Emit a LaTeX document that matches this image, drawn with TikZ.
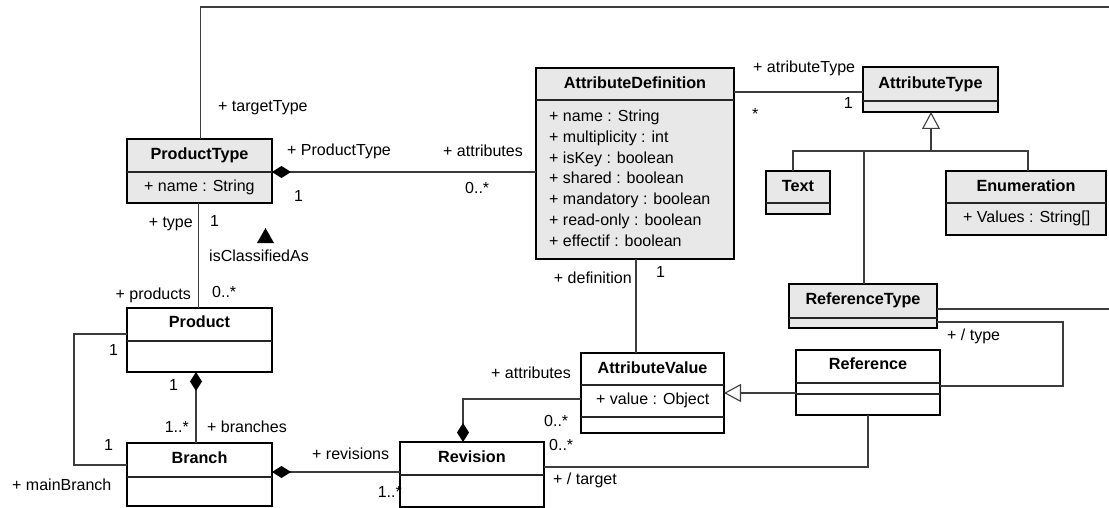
\documentclass[tikz,border=0pt]{standalone}
\usepackage{fontspec}
\setmainfont{Liberation Sans}
\usetikzlibrary{arrows.meta}
\definecolor{boxgray}{RGB}{232,232,232}
\definecolor{linegray}{RGB}{60,60,60}
\newcommand{\txtsize}{\fontsize{16}{19}\selectfont}
\newcommand{\ttlsize}{\fontsize{16.2}{19}\selectfont}
% class box from its corners: name, x1, y1, x2, y2, fill
\newcommand{\classbox}[6]{%
  \node[cls, fill=#6, minimum width={(#4-#2)*1pt}, minimum height={(#5-#3)*1pt}]
    (#1) at ({(#2+#4)/2},{(#3+#5)/2}) {};}
% compartment divider of a class at height y
\newcommand{\compline}[2]{\draw[div] (#1.west |- 0,#2) -- (#1.east |- 0,#2);}
\tikzset{
  cls/.style={draw=black, line width=2pt, inner sep=0pt, outer sep=0pt},
  div/.style={draw=black!85, line width=1.2pt},
  conn/.style={draw=linegray, line width=1.1pt},
  ttl/.style={font=\bfseries\ttlsize, inner sep=0pt, anchor=mid},
  attr/.style={font=\txtsize, inner sep=0pt, anchor=mid west},
  lbl/.style={font=\txtsize, inner sep=0pt, anchor=mid west},
  lblr/.style={lbl, anchor=mid east},
  compo/.style={{Diamond[length=19pt,width=12pt,black]}-},
  gener/.style={-{Triangle[open,length=17pt,width=18pt]}},
}
\begin{document}
\begin{tikzpicture}[x=1pt,y=-1pt]
\useasboundingbox[fill=white] (0,0) rectangle (1109,508);

% ---------- classes ----------
\classbox{pt}{127}{139}{272}{203}{boxgray}
\compline{pt}{172}
\node[ttl] (ptT) at (pt.center |- 0,157) {ProductType};
\node[attr] (ptA) at (144,189) {+ name : String};

\classbox{prod}{127}{308}{272}{372}{white}
\compline{prod}{341}
\node[ttl] (prodT) at (prod.center |- 0,325) {Product};

\classbox{br}{127}{443}{272}{506}{white}
\compline{br}{477}
\node[ttl] (brT) at (br.center |- 0,461) {Branch};

\classbox{rev}{400}{442}{544}{507}{white}
\compline{rev}{475}
\node[ttl] (revT) at (rev.center |- 0,460) {Revision};

\classbox{av}{581}{353}{724}{433}{white}
\compline{av}{385}
\compline{av}{417}
\node[ttl] (avT) at (av.center |- 0,371) {AttributeValue};
\node[attr] (avA) at (596,402) {+ value : Object};

\classbox{ad}{536}{68}{734}{259}{boxgray}
\compline{ad}{100}
\node[ttl] (adT) at (ad.center |- 0,86) {AttributeDefinition};
\node[attr] (adA1) at (549,119) {+ name : String};
\node[attr] (adA2) at (549,140) {+ multiplicity : int};
\node[attr] (adA3) at (549,161) {+ isKey : boolean};
\node[attr] (adA4) at (549,181) {+ shared : boolean};
\node[attr] (adA5) at (549,202) {+ mandatory : boolean};
\node[attr] (adA6) at (549,223) {+ read-only : boolean};
\node[attr] (adA7) at (549,244) {+ effectif : boolean};

\classbox{at}{863}{67}{998}{112}{boxgray}
\compline{at}{101}
\node[ttl] (atT) at (at.center |- 0,86) {AttributeType};

\classbox{tx}{766}{171}{830}{214}{boxgray}
\compline{tx}{203}
\node[ttl] (txT) at (tx.center |- 0,189) {Text};

\classbox{en}{946}{171}{1106}{235}{boxgray}
\compline{en}{203}
\node[ttl] (enT) at (en.center |- 0,189) {Enumeration};
\node[attr] (enA) at (963,220) {+ Values : String[]};

\classbox{rt}{789}{284}{937}{328}{boxgray}
\compline{rt}{318}
\node[ttl] (rtT) at (rt.center |- 0,302) {ReferenceType};

\classbox{rf}{796}{350}{940}{415}{white}
\compline{rf}{383}
\compline{rf}{394}
\node[ttl] (rfT) at (rf.center |- 0,367) {Reference};

% ---------- connectors ----------
\coordinate (topEnd) at (1109,7);
\coordinate (rtEnd) at (1109,309);
\coordinate (gen) at (931,151);

% ProductType -> targetType (runs off to the right)
\draw[conn] (pt.north -| 200.5,0) |- (topEnd);
% ProductType <>-- AttributeDefinition
\draw[conn, compo] (pt.east |- 0,172) -- (ad.west |- 0,172);
% ProductType -- Product (isClassifiedAs)
\draw[conn] (pt.south -| 198.5,0) -- (prod.north -| 198.5,0);
% Product -- Branch (mainBranch)
\draw[conn] (prod.west |- 0,334) -| (74,465) -- (br.west |- 0,465);
% Product <>-- Branch
\draw[conn, compo] (prod.south -| 196,0) -- (br.north -| 196,0);
% Branch <>-- Revision
\draw[conn, compo] (br.east |- 0,472) -- (rev.west |- 0,472);
% Revision <>-- AttributeValue
\draw[conn, compo] (rev.north -| 463,0) |- (av.west |- 0,399);
% AttributeDefinition -- AttributeValue
\draw[conn] (ad.south -| 636,0) -- (av.north -| 636,0);
% Reference --|> AttributeValue
\draw[conn, gener] (rf.west |- 0,393) -- (av.east |- 0,393);
% Reference -- Revision (target)
\draw[conn] (rf.south -| 868,0) |- (rev.east |- 0,467);
% ReferenceType (runs off to the right)
\draw[conn] (rt.east |- 0,309) -- (rtEnd);
% Reference -- ReferenceType (type)
\draw[conn] (rt.east |- 0,322) -| (1063,386) -- (rf.east |- 0,386);
% AttributeDefinition -- AttributeType
\draw[conn] (ad.east |- 0,92) -- (at.west |- 0,92);
% subclasses of AttributeType
\draw[conn, gener] (gen) -- (at.south -| gen);
\draw[conn] (tx.north -| 793,0) |- (gen);
\draw[conn] (en.north -| 1028,0) |- (gen);
\draw[conn] (rt.north -| 864,0) -- (864,151);

% association direction marker
\fill[black] (257,243) -- (274,243) -- (265.5,228) -- cycle;

% ---------- role names and multiplicities ----------
\node[lbl]  (l1)  at (218,109) {+ targetType};
\node[lbl]  (l2)  at (287,153) {+ ProductType};
\node[lbl]  (l3)  at (294,199) {1};
\node[lbl]  (l4)  at (443,154) {+ attributes};
\node[lbl]  (l5)  at (465,191) {0..*};
\node[lblr] (l6)  at (193,225) {+ type};
\node[lbl]  (l7)  at (210,224) {1};
\node[lbl]  (l8)  at (209,259) {isClassifiedAs};
\node[lblr] (l9)  at (191,297) {+ products};
\node[lbl]  (l10) at (212,295) {0..*};
\node[lbl]  (l11) at (109,353) {1};
\node[lbl]  (l12) at (169,388) {1};
\node[lblr] (l13) at (189,430) {1..*};
\node[lbl]  (l14) at (207,430) {+ branches};
\node[lbl]  (l15) at (104,448) {1};
\node[lbl]  (l16) at (12,488) {+ mainBranch};
\node[lbl]  (l17) at (312,457) {+ revisions};
\node[lblr] (l18) at (402,495) {1..*};
\node[lbl]  (l19) at (491,376) {+ attributes};
\node[lbl]  (l20) at (544,424) {0..*};
\node[lbl]  (l21) at (549,448) {0..*};
\node[lbl]  (l22) at (553,482) {+ / target};
\node[lblr] (l23) at (632,281) {+ definition};
\node[lbl]  (l24) at (656,275) {1};
\node[lbl]  (l25) at (947,338) {+ / type};
\node[lbl]  (l26) at (753,70) {+ atributeType};
\node[lbl]  (l27) at (752,117) {*};
\node[lblr] (l28) at (853,106) {1};
\end{tikzpicture}
\end{document}
